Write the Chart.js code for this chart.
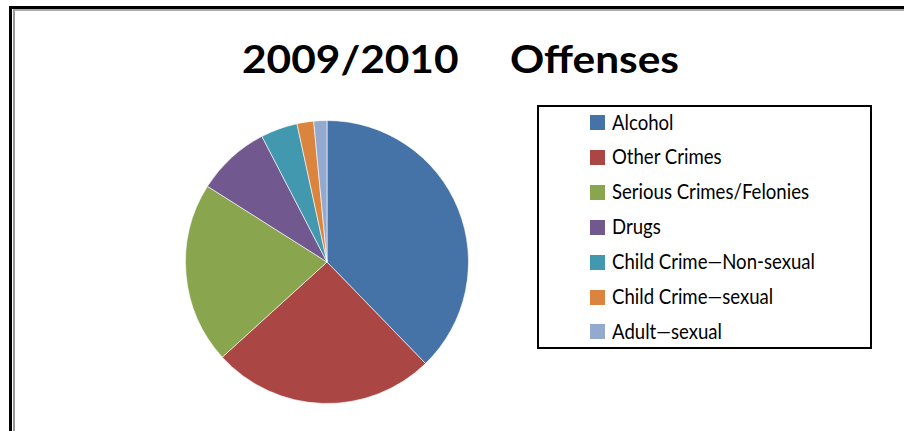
<!DOCTYPE html>
<html lang="en">
<head>
    <meta charset="UTF-8">
    <title>2009/2010 Offenses</title>
    <style>
        body {
            margin: 0;
            padding: 0;
            width: 904px;
            height: 431px;
            background: #fff;
            position: relative;
            overflow: hidden;
            font-family: Lato, "Open Sans", sans-serif;
        }

        .frame-outer {
            position: absolute;
            left: 9px;
            top: 6px;
            width: 1000px;
            height: 1000px;
            border-left: 3px solid #000;
            border-top: 3px solid #000;
        }

        .frame-inner {
            position: absolute;
            left: 13px;
            top: 9px;
            width: 1000px;
            height: 1000px;
            border-left: 2px solid #999;
            border-top: 2px solid #aaa;
        }

        h1 {
            position: absolute;
            left: 242px;
            top: 39px;
            margin: 0;
            font-size: 38px;
            font-weight: bold;
            color: #000;
            white-space: pre;
            transform-origin: 0 0;
            line-height: 1;
        }

        #pie {
            position: absolute;
            left: 177px;
            top: 112px;
        }

        .legend {
            position: absolute;
            left: 537px;
            top: 105px;
            width: 331px;
            height: 240px;
            border: 2px solid #000;
        }

        .box {
            position: absolute;
            left: 590px;
            width: 15px;
            height: 15px;
        }

        .txt {
            position: absolute;
            left: 612px;
            font-size: 22px;
            line-height: 1;
            color: #000;
            white-space: nowrap;
            transform-origin: 0 0;
        }
    </style>
</head>
<body>
    <div class="frame-outer"></div>
    <div class="frame-inner"></div>
    <h1 id="title">2009/2010     Offenses</h1>
    <canvas id="pie" width="300" height="300"></canvas>
    <div class="legend"></div>

    <script src="https://cdn.jsdelivr.net/npm/chart.js"></script>
    <script>
        // data (percent of offenses)
        const categories = ['Alcohol', 'Other Crimes', 'Serious Crimes/Felonies', 'Drugs',
            'Child Crime\u2014Non-sexual', 'Child Crime\u2014sexual', 'Adult\u2014sexual'];
        const shares = [37.7, 25.5, 20.7, 8.4, 4.2, 1.9, 1.5];
        const sliceColors = ['#4572A7', '#AA4643', '#89A54E', '#71588F', '#4198AF', '#DB843D', '#93A9CF'];

        // stretch the title to the width it has in the original
        const title = document.getElementById('title');
        title.style.transform = 'scaleX(' + (437 / title.getBoundingClientRect().width) + ')';

        // legend entries (text in the original is condensed)
        const spans = categories.map((name, i) => {
            const baseline = 130 + i * 34.9;
            const box = document.createElement('div');
            box.className = 'box';
            box.style.top = (baseline - 15) + 'px';
            box.style.background = sliceColors[i];
            document.body.appendChild(box);

            const txt = document.createElement('div');
            txt.className = 'txt';
            txt.style.top = (baseline - 19.5) + 'px';
            txt.textContent = name;
            document.body.appendChild(txt);
            return txt;
        });
        const squeeze = 197 / spans[2].getBoundingClientRect().width;
        spans.forEach(s => { s.style.transform = 'scaleX(' + squeeze + ')'; });

        new Chart(document.getElementById('pie'), {
            type: 'pie',
            data: {
                labels: categories,
                datasets: [{
                    data: shares,
                    backgroundColor: sliceColors,
                    borderColor: 'rgba(255,255,255,0.6)',
                    borderWidth: 1
                }]
            },
            options: {
                responsive: false,
                animation: false,
                radius: 141.5,
                plugins: {
                    legend: { display: false },
                    tooltip: { enabled: false }
                }
            }
        });
    </script>
</body>
</html>
